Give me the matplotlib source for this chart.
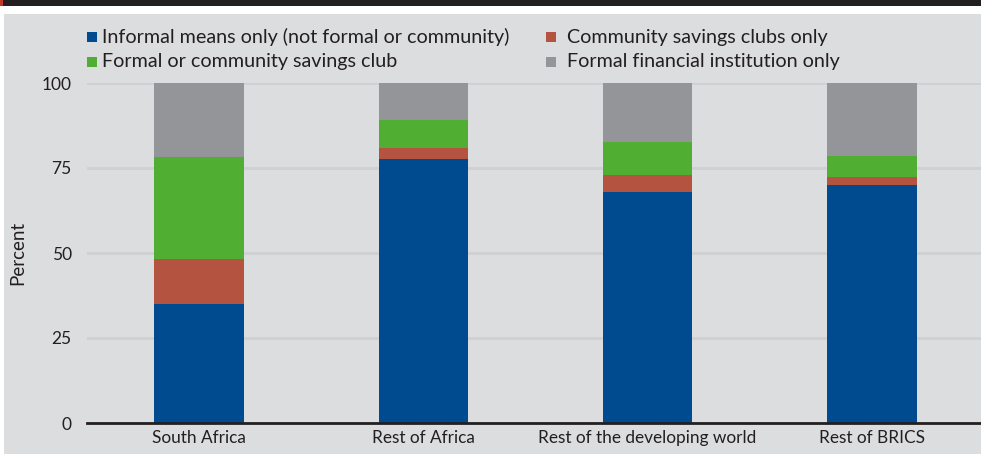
import matplotlib
matplotlib.use("Agg")
import matplotlib.pyplot as plt
from matplotlib.patches import Rectangle

categories = ["South Africa", "Rest of Africa", "Rest of the developing world", "Rest of BRICS"]
series_names = ["Informal means only (not formal or community)", "Community savings clubs only",
                "Formal or community savings club", "Formal financial institution only"]
informal = [35.0, 77.6, 67.9, 70.0]
community = [13.1, 3.3, 5.0, 2.4]
formal_or_comm = [30.0, 8.2, 9.7, 6.1]
formal_only = [21.9, 10.9, 17.4, 21.5]
yticks = [0, 25, 50, 75, 100]
colors = ["#004A8F", "#B45340", "#50AE32", "#939598"]

W, H = 981, 454
fig = plt.figure(figsize=(W / 100, H / 100), dpi=100)
fig.patch.set_facecolor("white")
font = ["Lato", "DejaVu Sans"]

# background panel
fig.patches.append(Rectangle((4 / W, 0), 1, (H - 14) / H, transform=fig.transFigure,
                             facecolor="#DCDDDF", edgecolor="none", zorder=-10))
fig.patches.append(Rectangle((2 / W, (H - 6) / H), 1, 6 / H, transform=fig.transFigure,
                             facecolor="#231F20", edgecolor="none", zorder=-10))
fig.patches.append(Rectangle((0, (H - 6) / H), 2.5 / W, 6 / H, transform=fig.transFigure,
                             facecolor="#C0392B", edgecolor="none", zorder=-10))

left, right = 87, 984
bottom, top = 423, 83
ax = fig.add_axes([left / W, (H - bottom) / H, (right - left) / W, (bottom - top) / H])
ax.set_facecolor("none")
ax.set_zorder(1)

x = list(range(len(categories)))
data = [informal, community, formal_or_comm, formal_only]
base = [0.0] * len(categories)
for vals, c in zip(data, colors):
    ax.bar(x, vals, bottom=base, width=0.4, color=c, zorder=3, linewidth=0)
    base = [b + v for b, v in zip(base, vals)]

ax.set_xlim(-0.5, 3.5)
ax.set_ylim(0, 100)
ax.set_yticks(yticks)
ax.set_yticklabels([str(t) for t in yticks], fontsize=12.5, family=font, color="#231F20")
ax.set_xticks(x)
ax.set_xticklabels(categories, fontsize=12.4, family=font, color="#231F20")
ax.tick_params(axis="both", length=0)
ax.tick_params(axis="y", pad=11)
ax.tick_params(axis="x", pad=5)
for t in yticks[1:]:
    ax.axhline(t, color="#CFD0D2", linewidth=2, zorder=1)
for s in ["top", "right", "left"]:
    ax.spines[s].set_visible(False)
ax.spines["bottom"].set_color("#231F20")
ax.spines["bottom"].set_linewidth(2)
ax.spines["bottom"].set_zorder(4)
ax.set_ylabel("Percent", fontsize=13.5, family=font, color="#231F20", va="center")
ax.yaxis.set_label_coords(-(left - 18) / (right - left), 0.5)

# legend
pos = [(87, 37, 102), (546, 37, 567), (87, 62, 102), (546, 62, 567)]
for (px, py, tx), name, c in zip(pos, series_names, colors):
    fig.patches.append(Rectangle((px / W, (H - py - 5) / H), 10 / W, 10 / H,
                                 transform=fig.transFigure, facecolor=c, edgecolor="none", zorder=2))
    fig.text(tx / W, (H - py) / H, name, fontsize=14.2, family=font,
             color="#231F20", va="center", ha="left")

fig.savefig("out.png", dpi=100)
